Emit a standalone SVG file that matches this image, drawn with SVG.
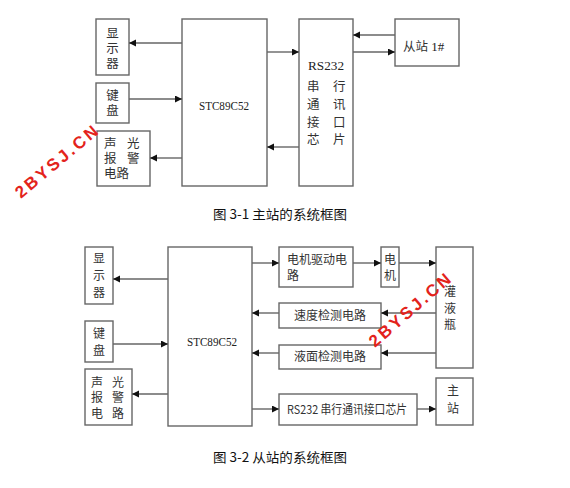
<svg xmlns="http://www.w3.org/2000/svg" width="570" height="488" viewBox="0 0 570 488">
<defs>
<marker id="ah" markerUnits="userSpaceOnUse" markerWidth="8" markerHeight="8" refX="7" refY="3.5" orient="auto">
<path d="M0,0 L7,3.5 L0,7 z" fill="#111"/>
</marker>
<style>
.box{fill:#fff;stroke:#666;stroke-width:1.4}
.ln{fill:none;stroke:#666;stroke-width:1.4;marker-end:url(#ah)}
.cj{font-family:"Noto Sans CJK SC","Noto Sans",sans-serif;fill:#333;font-size:12.5px}
.cj2{font-family:"Noto Sans CJK SC","Noto Sans",sans-serif;fill:#333;font-size:12px}
.sf{font-family:"Liberation Serif","Noto Sans CJK SC",serif;fill:#222;font-size:13px}
.cap{font-family:"Noto Sans CJK SC","DejaVu Sans Mono",sans-serif;fill:#111;font-size:13px}
.wm{font-family:"Liberation Sans",sans-serif;font-weight:bold;fill:#e3231b;font-size:17px}
.m{text-anchor:middle}
</style>
</defs>
<rect width="570" height="488" fill="#fff"/>

<!-- Diagram 1 -->
<g id="d1-display"><rect class="box" x="96" y="19" width="33" height="56"/>
<text class="cj m"><tspan x="112.5" y="38">显</tspan><tspan x="112.5" y="53">示</tspan><tspan x="112.5" y="68">器</tspan></text></g>
<g id="d1-keyboard"><rect class="box" x="96" y="83" width="33" height="40"/>
<text class="cj m"><tspan x="112.5" y="100">键</tspan><tspan x="112.5" y="115">盘</tspan></text></g>
<g id="d1-alarm"><rect class="box" x="97" y="131" width="53" height="55"/>
<text class="cj"><tspan x="104" y="148">声</tspan><tspan x="127" y="148">光</tspan><tspan x="104" y="163">报</tspan><tspan x="127" y="163">警</tspan><tspan x="104" y="178">电路</tspan></text></g>
<g id="d1-mcu"><rect class="box" x="182" y="19" width="85" height="167"/>
<text class="sf m" x="224" y="110" textLength="50" lengthAdjust="spacingAndGlyphs">STC89C52</text></g>
<g id="d1-rs232"><rect class="box" x="299" y="19" width="54" height="167"/>
<text class="sf m" x="326" y="70" font-size="14" textLength="36" lengthAdjust="spacingAndGlyphs">RS232</text>
<text class="cj" font-size="13.5"><tspan x="307" y="91">串</tspan><tspan x="333" y="91">行</tspan><tspan x="307" y="109">通</tspan><tspan x="333" y="109">讯</tspan><tspan x="307" y="127">接</tspan><tspan x="333" y="127">口</tspan><tspan x="307" y="144">芯</tspan><tspan x="333" y="144">片</tspan></text></g>
<g id="d1-slave"><rect class="box" x="395" y="19" width="64" height="47"/>
<text class="cj" x="403" y="51">从站<tspan class="sf"> 1#</tspan></text></g>

<g id="d1-connectors">
<line class="ln" x1="182" y1="43" x2="129" y2="43"/>
<line class="ln" x1="129" y1="99" x2="182" y2="99"/>
<line class="ln" x1="182" y1="158" x2="150" y2="158"/>
<line class="ln" x1="267" y1="52" x2="299" y2="52"/>
<line class="ln" x1="299" y1="147" x2="267" y2="147"/>
<line class="ln" x1="395" y1="35" x2="353" y2="35"/>
<line class="ln" x1="353" y1="52" x2="395" y2="52"/>
</g>
<text class="cap" x="213" y="219" textLength="134" lengthAdjust="spacingAndGlyphs">图 3-1 主站的系统框图</text>

<!-- Diagram 2 -->
<g id="d2-display"><rect class="box" x="85" y="247" width="28" height="57"/>
<text class="cj2 m"><tspan x="99" y="263">显</tspan><tspan x="99" y="280">示</tspan><tspan x="99" y="297">器</tspan></text></g>
<g id="d2-keyboard"><rect class="box" x="85" y="321" width="28" height="41"/>
<text class="cj2 m"><tspan x="99" y="338">键</tspan><tspan x="99" y="355">盘</tspan></text></g>
<g id="d2-alarm"><rect class="box" x="85" y="369" width="47" height="56"/>
<text class="cj2"><tspan x="91" y="387">声</tspan><tspan x="112" y="387">光</tspan><tspan x="91" y="402">报</tspan><tspan x="112" y="402">警</tspan><tspan x="91" y="418">电</tspan><tspan x="112" y="418">路</tspan></text></g>
<g id="d2-mcu"><rect class="box" x="168" y="247" width="84" height="179"/>
<text class="sf m" x="212" y="346" textLength="50" lengthAdjust="spacingAndGlyphs">STC89C52</text></g>
<g id="d2-driver"><rect class="box" x="279" y="247" width="74" height="40"/>
<text class="cj2"><tspan x="287" y="264">电机驱动电</tspan><tspan x="287" y="280">路</tspan></text></g>
<g id="d2-motor"><rect class="box" x="381" y="247" width="18" height="40"/>
<text class="cj2 m"><tspan x="390" y="264">电</tspan><tspan x="390" y="280">机</tspan></text></g>
<g id="d2-bottle"><rect class="box" x="436" y="247" width="37" height="121"/>
<text class="cj2 m"><tspan x="450" y="296">灌</tspan><tspan x="450" y="313">液</tspan><tspan x="450" y="329">瓶</tspan></text></g>
<g id="d2-speed"><rect class="box" x="279" y="303" width="102" height="25"/>
<text class="cj2 m" x="330" y="320">速度检测电路</text></g>
<g id="d2-level"><rect class="box" x="279" y="345" width="102" height="24"/>
<text class="cj2 m" x="330" y="361">液面检测电路</text></g>
<g id="d2-master"><rect class="box" x="436" y="378" width="37" height="47"/>
<text class="cj2 m"><tspan x="453" y="395">主</tspan><tspan x="453" y="413">站</tspan></text></g>
<g id="d2-rs232"><rect class="box" x="279" y="394" width="138" height="31"/>
<text class="cj2" x="287" y="414" textLength="120" lengthAdjust="spacingAndGlyphs">RS232 串行通讯接口芯片</text></g>

<g id="d2-connectors">
<line class="ln" x1="168" y1="279" x2="113" y2="279"/>
<line class="ln" x1="113" y1="344" x2="168" y2="344"/>
<line class="ln" x1="168" y1="394" x2="132" y2="394"/>
<line class="ln" x1="252" y1="263" x2="279" y2="263"/>
<line class="ln" x1="353" y1="263" x2="381" y2="263"/>
<line class="ln" x1="399" y1="263" x2="436" y2="263"/>
<line class="ln" x1="436" y1="313" x2="381" y2="313"/>
<line class="ln" x1="279" y1="313" x2="252" y2="313"/>
<line class="ln" x1="436" y1="353" x2="381" y2="353"/>
<line class="ln" x1="279" y1="353" x2="252" y2="353"/>
<line class="ln" x1="252" y1="409" x2="279" y2="409"/>
<line class="ln" x1="417" y1="409" x2="436" y2="409"/>
</g>
<text class="cap" x="213" y="462" textLength="134" lengthAdjust="spacingAndGlyphs">图 3-2 从站的系统框图</text>

<!-- watermarks -->
<text class="wm" transform="translate(21,199) rotate(-40)" textLength="102" lengthAdjust="spacing">2BYSJ.CN</text>
<text class="wm" transform="translate(375,348) rotate(-41)" textLength="102" lengthAdjust="spacing">2BYSJ.CN</text>
</svg>
